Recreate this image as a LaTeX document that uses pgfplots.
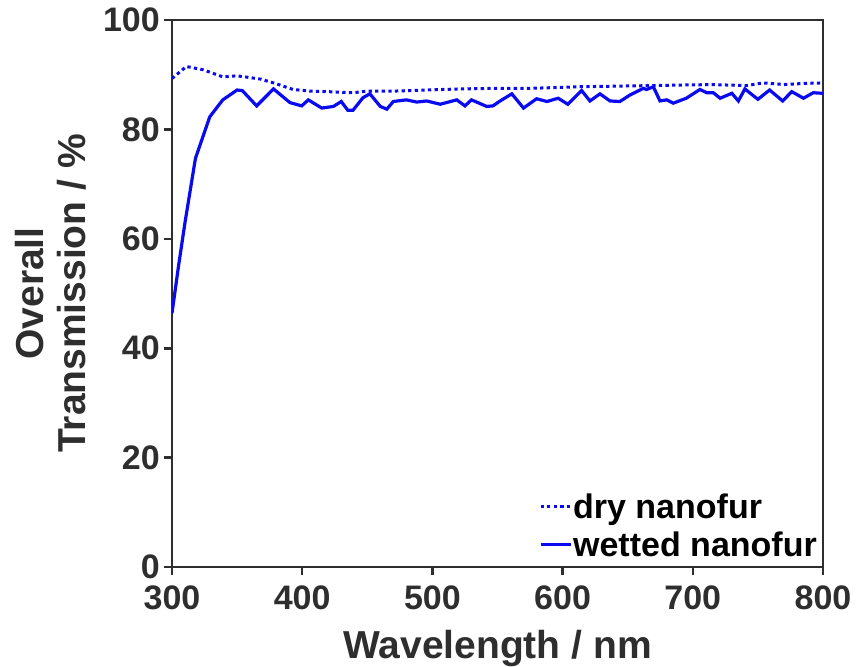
\documentclass[border=0pt]{standalone}
\usepackage{pgfplots}
\pgfplotsset{compat=1.18}
\usepackage{fontspec}
\setmainfont{Liberation Sans}
\definecolor{axgray}{HTML}{2E2E2E}
\definecolor{lblue}{HTML}{0A0AF0}
\begin{document}
\begin{tikzpicture}
\begin{axis}[
  scale only axis, width=651pt, height=547pt,
  xmin=300, xmax=800, ymin=0, ymax=100,
  xtick={300,400,...,800}, ytick={0,20,...,100},
  axis line style={axgray, line width=2.6pt},
  tick style={axgray, line width=2.6pt},
  tick align=outside, major tick length=8pt,
  xtick pos=bottom, ytick pos=left,
  /pgf/number format/assume math mode=true,
  tick label style={font=\fontsize{34}{40}\selectfont\bfseries, text=axgray, inner sep=4pt},
  xticklabel style={yshift=-7pt},
  label style={font=\fontsize{39}{42}\selectfont\bfseries, text=axgray},
  xlabel={Wavelength / nm},
  xlabel style={at={(axis description cs:0.5,0)}, anchor=base, yshift=-91pt, inner sep=0pt},
  ylabel={Overall\\Transmission / \%},
  ylabel style={align=center, at={(axis description cs:0,0.5)}, anchor=center, yshift=121pt, inner sep=0pt},
  legend style={draw=none, fill=none, at={(axis description cs:1,0)}, anchor=south east,
    xshift=-5pt, yshift=6pt, inner sep=0pt, column sep=0pt, row sep=6pt,
    font=\fontsize{34}{38}\selectfont\bfseries,
    nodes={inner sep=1pt, text height=27pt, text depth=3pt}},
  legend cell align=left,
  legend image code/.code={\draw[#1] (0pt,0pt) -- (30pt,0pt);},
]
\addplot[lblue, line width=3pt, dash pattern=on 3.3pt off 3.3pt] coordinates {
(300,89.3)(311,91.5)(324,90.9)(339,89.6)(350,89.8)(368,89.2)(378,88.5)(393,87.3)
(406,87.0)(420,86.9)(439,86.7)(450,87.0)(470,87.0)(496,87.2)(521,87.4)(547,87.5)
(575,87.5)(613,87.8)(640,87.9)(665,88.0)(690,88.1)(715,88.2)(741,88.0)(754,88.5)
(770,88.2)(785,88.4)(800,88.5)
};
\addlegendentry{dry nanofur}
\addplot[lblue, line width=3.2pt] coordinates {
(300,46.4)(305,55)(310,63)(318,74.7)(329,82.3)(339,85.4)(350,87.2)(354,87.1)
(365,84.3)(378,87.4)(390.6,84.9)(399.6,84.3)(404.7,85.4)(415,83.9)(424,84.2)
(430,85.1)(435,83.5)(439,83.5)(446.7,85.8)(452,86.5)(460,84.2)(465,83.7)(470,85.1)
(480,85.4)(488,85.0)(495.6,85.2)(506,84.6)(518.7,85.4)(525,84.3)(530,85.4)
(541.7,84.2)(546.5,84.3)(552,85.2)(561,86.5)(570,83.9)(580,85.6)(588,85.1)
(596.6,85.7)(604,84.6)(614.6,87.1)(621,85.2)(628.7,86.5)(636.4,85.2)(644,85.1)
(651.8,86.3)(662,87.5)(664.5,87.3)(669.7,87.8)(674.8,85.2)(680,85.4)(685,84.8)
(695,85.7)(705.5,87.3)(710.7,86.7)(715.8,86.7)(721,85.7)(730,86.6)(735,85.2)
(740,87.4)(750,85.5)(759,87.2)(769,85.2)(776,86.9)(785,85.7)(792.5,86.7)(800,86.6)
};
\addlegendentry{wetted nanofur}
\end{axis}
\path (current axis.south west) ++(-172pt,-98pt) rectangle ++(856pt,665pt);
\end{tikzpicture}
\end{document}
